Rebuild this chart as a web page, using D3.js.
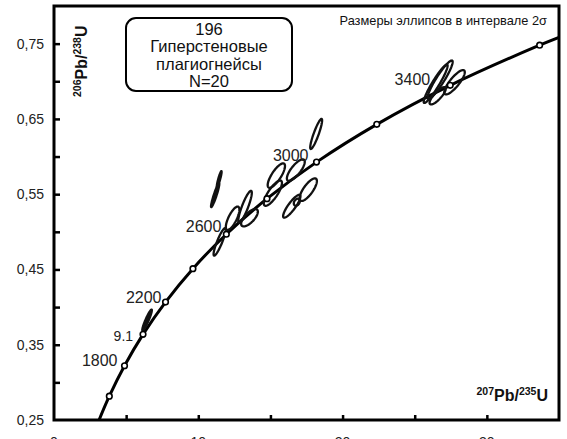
<!DOCTYPE html>
<html><head><meta charset="utf-8">
<script src="https://cdn.jsdelivr.net/npm/d3@7"></script>
<style>
html,body{margin:0;padding:0;background:#fff;}
svg{display:block;font-family:"Liberation Sans",Arial,sans-serif;}
</style></head><body>
<svg id="chart" width="567" height="439"></svg>
<script>
// ---- data ----
const concordiaAge = [1438, 1600, 1800, 2000, 2200, 2400, 2600, 2800, 3000, 3200, 3400, 3600, 3639];
const concordiaX   = [3.124, 3.834, 4.887, 6.169, 7.729, 9.629, 11.944, 14.762, 18.193, 22.371, 27.460, 33.657, 35.0];
const concordiaY   = [0.2500, 0.2817, 0.3221, 0.3638, 0.4067, 0.4511, 0.4968, 0.5440, 0.5926, 0.6428, 0.6946, 0.7480, 0.7584];
const markerAges   = [1600, 1800, 2000, 2200, 2400, 2600, 2800, 3000, 3200, 3400, 3600];
const labelAges    = [1800, 2200, 2600, 3000, 3400];

// analyses: 207Pb/235U, 206Pb/238U, 2-sigma errors, error correlation
const ellX   = [18.17, 11.45, 11.17, 13.24, 12.38, 13.55, 11.48, 15.41, 15.17, 16.76, 17.62, 16.48, 16.83, 6.45, 26.76, 26.45, 27.76, 26.59];
const ellY   = [0.630, 0.570, 0.5487, 0.5333, 0.518, 0.5187, 0.4867, 0.5747, 0.5513, 0.582, 0.556, 0.534, 0.5393, 0.3827, 0.702, 0.6967, 0.6987, 0.6807];
const ellSX  = [0.412, 0.170, 0.290, 0.470, 0.470, 0.580, 0.420, 0.600, 0.630, 0.620, 0.600, 0.600, 0.210, 0.335, 0.870, 0.830, 0.710, 0.560];
const ellSY  = [0.0200, 0.0107, 0.0160, 0.0212, 0.0155, 0.0115, 0.0183, 0.0162, 0.0168, 0.0143, 0.0150, 0.0152, 0.0047, 0.01404, 0.0256, 0.0255, 0.0162, 0.0115];
const ellRho = [0.896, 0.90, 0.93, 0.875, 0.740, 0.695, 0.892, 0.780, 0.800, 0.772, 0.766, 0.865, 0.325, 0.93, 0.926, 0.94, 0.829, 0.815];
const ellDark = [0, 1, 1, 0, 0, 0, 0, 0, 0, 0, 0, 0, 0, 1, 0, 0, 0, 0];
const sampleLabel = "9.1";
const sampleIndex = 13;

const xTicks = [5, 10, 15, 20, 25, 30];
const xTickLabels = [0, 10, 20, 30];
const yTicks = [0.30, 0.35, 0.40, 0.45, 0.50, 0.55, 0.60, 0.65, 0.70, 0.75];
const yTickLabels = [0.25, 0.35, 0.45, 0.55, 0.65, 0.75];

const boxLines = ["196", "Гиперстеновые", "плагиогнейсы", "N=20"];
const noteText = "Размеры эллипсов в интервале 2σ";

// ---- layout ----
const L = 54, R = 559, T = 6, B = 420;
const svg = d3.select("#chart");
const x = d3.scaleLinear().domain([0, 35]).range([L, R]);
const y = d3.scaleLinear().domain([0.25, 0.80]).range([B, T]);
const fmt = v => d3.format(".2f")(v).replace(".", ",");

svg.append("clipPath").attr("id", "clip").append("rect")
  .attr("x", L).attr("y", T).attr("width", R - L).attr("height", B - T);

// axes ticks (inward)
const gx = svg.append("g").attr("transform", `translate(0,${B})`)
  .call(d3.axisBottom(x).tickValues(xTicks).tickSize(-5).tickFormat(""));
gx.select(".domain").remove();
gx.selectAll(".tick line").attr("stroke", "#000").attr("stroke-width", 2.5);

const gy = svg.append("g").attr("transform", `translate(${L},0)`)
  .call(d3.axisLeft(y).tickValues(yTicks).tickSize(-6).tickFormat(""));
gy.select(".domain").remove();
gy.selectAll(".tick line").attr("stroke", "#000").attr("stroke-width", 2.5);

// tick labels
svg.append("g").selectAll("text").data(yTickLabels).join("text")
  .attr("x", L - 10).attr("y", d => y(d)).attr("dy", "0.35em")
  .attr("text-anchor", "end").attr("font-size", 14).attr("fill", "#222")
  .text(fmt);
svg.append("g").selectAll("text").data(xTickLabels).join("text")
  .attr("x", d => x(d)).attr("y", 447)
  .attr("text-anchor", "middle").attr("font-size", 14).attr("fill", "#222")
  .text(d => d);

// frame
svg.append("rect").attr("x", L).attr("y", T).attr("width", R - L).attr("height", B - T)
  .attr("fill", "none").attr("stroke", "#000").attr("stroke-width", 3);

// concordia
const conc = concordiaX.map((v, i) => [v, concordiaY[i]]);
svg.append("path").datum(conc)
  .attr("clip-path", "url(#clip)")
  .attr("d", d3.line().x(d => x(d[0])).y(d => y(d[1])).curve(d3.curveCatmullRom.alpha(0.5)))
  .attr("fill", "none").attr("stroke", "#000").attr("stroke-width", 3);

// ellipses
const thetas = d3.range(0, 72).map(i => i / 72 * 2 * Math.PI);
const ellLine = d3.line().curve(d3.curveLinearClosed);
const ellG = svg.append("g");
ellX.forEach((cx, i) => {
  const cy = ellY[i], sx = ellSX[i], sy = ellSY[i], r = ellRho[i];
  const k = Math.sqrt(1 - r * r);
  const pts = thetas.map(t => [x(cx + sx * Math.cos(t)), y(cy + sy * (r * Math.cos(t) + k * Math.sin(t)))]);
  ellG.append("path").attr("d", ellLine(pts))
    .attr("fill", ellDark[i] ? "#111" : "none")
    .attr("stroke", "#111").attr("stroke-width", ellDark[i] ? 2.2 : 2.3);
});

// age markers
const ageIdx = a => concordiaAge.indexOf(a);
svg.append("g").selectAll("circle").data(markerAges).join("circle")
  .attr("cx", a => x(concordiaX[ageIdx(a)]))
  .attr("cy", a => y(concordiaY[ageIdx(a)]))
  .attr("r", 2.8).attr("fill", "#fff").attr("stroke", "#000").attr("stroke-width", 1.6);

// age labels
const labelOffset = {1800: [-7, 0], 2200: [-4, 1], 2600: [-5, -2], 3000: [-8, -1], 3400: [-20, 0]};
svg.append("g").selectAll("text").data(labelAges).join("text")
  .attr("x", a => x(concordiaX[ageIdx(a)]) + labelOffset[a][0])
  .attr("y", a => y(concordiaY[ageIdx(a)]) + labelOffset[a][1])
  .attr("text-anchor", "end").attr("font-size", 16).attr("fill", "#222")
  .text(a => a);

// sample label
svg.append("text")
  .attr("x", x(ellX[sampleIndex]) - 14).attr("y", y(ellY[sampleIndex]) + 21)
  .attr("text-anchor", "end").attr("font-size", 14).attr("fill", "#222")
  .text(sampleLabel);

// info box
svg.append("rect").attr("x", 126).attr("y", 18).attr("width", 166).attr("height", 73)
  .attr("rx", 10).attr("ry", 10).attr("fill", "#fff").attr("stroke", "#000").attr("stroke-width", 2);
const boxBase = [35, 52, 70, 87];
svg.append("g").selectAll("text").data(boxLines).join("text")
  .attr("x", 209).attr("y", (d, i) => boxBase[i])
  .attr("text-anchor", "middle").attr("font-size", 16.5).attr("fill", "#111")
  .text(d => d);

// note
svg.append("text").attr("x", 547).attr("y", 25).attr("text-anchor", "end")
  .attr("font-size", 12.8).attr("fill", "#111").text(noteText);

// axis titles
function isoTitle(sel, a, el, b, el2) {
  sel.append("tspan").attr("font-size", 10.5).attr("dy", -6).text(a);
  sel.append("tspan").attr("font-size", 16).attr("dy", 6).text(el);
  sel.append("tspan").attr("font-size", 10.5).attr("dy", -6).text(b);
  sel.append("tspan").attr("font-size", 16).attr("dy", 6).text(el2);
}
const yt = svg.append("text").attr("transform", "translate(87,97) rotate(-90)")
  .attr("font-weight", "bold").attr("fill", "#111");
isoTitle(yt, "206", "Pb/", "238", "U");
const xt = svg.append("text").attr("x", 548).attr("y", 401).attr("text-anchor", "end")
  .attr("font-weight", "bold").attr("fill", "#111");
isoTitle(xt, "207", "Pb/", "235", "U");
</script>
</body></html>
